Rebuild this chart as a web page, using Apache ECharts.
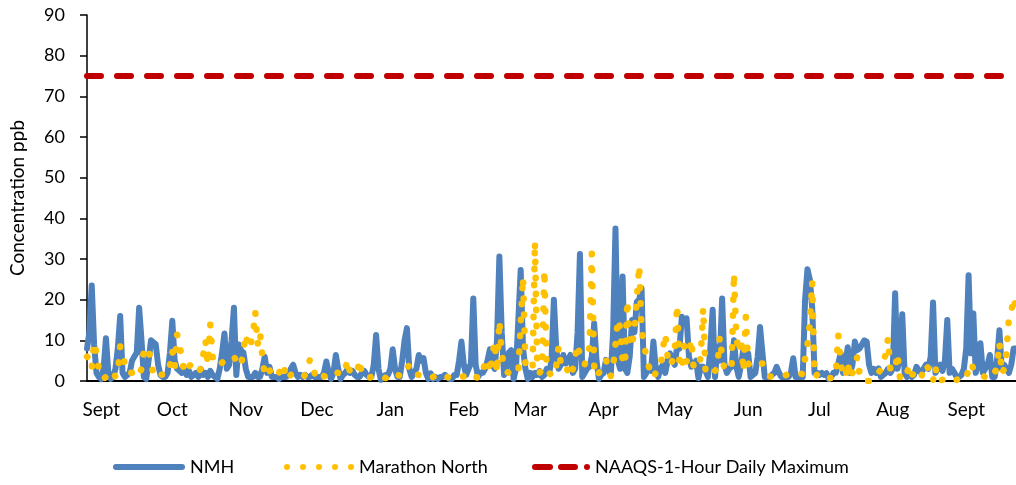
<!DOCTYPE html>
<html>
<head>
<meta charset="utf-8">
<script src="https://cdn.jsdelivr.net/npm/echarts@6/dist/echarts.min.js"></script>
<style>
  html, body { margin: 0; padding: 0; background: #fff; }
  #chart { width: 1016px; height: 485px; }
</style>
</head>
<body>
<div id="chart"></div>
<script>
// daily values, first day = START_DATE
var START_DATE = '2016-08-26';
var MONTH_LABELS = ['Jan', 'Feb', 'Mar', 'Apr', 'May', 'Jun', 'Jul', 'Aug', 'Sept', 'Oct', 'Nov', 'Dec'];
var NAAQS_LIMIT = 75;

var nmh = [
  8, 12, 23.5, 9, 2, 1, 0.5, 3, 10.5, 2,
  0.5, 1, 3, 8, 16, 2, 1, 1.5, 2, 5,
  6, 7, 18, 10, 1, 0.5, 5, 10, 9.5, 9,
  4, 1.5, 1, 1, 2, 7, 14.8, 5, 3, 2.5,
  2, 3, 1.5, 2.5, 1, 1.5, 2, 1, 3, 1.5,
  2, 1, 2.5, 1.5, 1, 0.5, 3, 7, 11.7, 3,
  4, 10, 18, 1.5, 9, 7.5, 7, 3, 1, 1,
  1, 2, 1, 1, 3, 6, 2, 3.5, 1, 1,
  1, 0.5, 1, 1, 1, 1.5, 3, 4, 2, 1,
  1.5, 1, 1.5, 1, 1, 1.5, 1, 1, 1, 1,
  2, 4.8, 2, 0.5, 2, 6.4, 3, 0.5, 1.5, 2,
  3, 2, 2.5, 1.5, 1, 1, 2, 2.5, 1.5, 1,
  1, 4, 11.3, 3, 0.3, 1, 1.5, 1.5, 3, 7.8,
  3, 1, 1, 5, 10, 13, 3, 1, 2, 3,
  6.4, 5, 5.6, 2, 0.5, 1.9, 0.5, 1, 0.5, 1,
  1, 1.5, 1, 0.5, 0.5, 1.5, 1.5, 5, 9.7, 4,
  1.5, 3, 4.3, 20.3, 4, 1, 2, 2, 3, 5,
  7.8, 4, 3, 10, 30.6, 12, 1.5, 3, 7, 7.6,
  0.5, 3, 15, 27.3, 8, 3, 0.5, 2, 1, 2,
  1.5, 2.5, 1, 1.5, 3, 2, 5, 20, 8, 3,
  4, 6.4, 4.3, 5, 6.4, 2, 3, 12, 31.2, 1,
  2, 3, 3.5, 6, 14.2, 5, 0.5, 1.5, 2, 5.2,
  3, 1.5, 12, 37.5, 5, 3, 25.7, 3, 2, 6,
  15, 12, 19.5, 20, 22.8, 1, 2, 3, 2.5, 9.7,
  3, 1, 3, 4, 2, 5, 6.8, 5, 4, 8.4,
  8, 15.8, 14, 15.4, 6, 3.5, 4, 5, 0.7, 3.5,
  3.5, 2.5, 1, 8, 17.5, 1, 8.3, 5, 20.3, 4,
  2, 3, 3.5, 10, 3.5, 1, 4, 8, 5, 6.8,
  1, 1.5, 2, 6, 13.3, 7, 1, 1, 1, 1.5,
  2, 3.5, 2, 1, 1, 1, 1, 2, 5.6, 1,
  1, 1, 1, 20, 27.5, 25, 18, 2, 2, 1.5,
  2, 1.5, 1.9, 0.5, 1, 2, 2, 4.3, 6.8, 2,
  4, 8.3, 2, 4, 9.7, 7.6, 8, 9, 10, 9.7,
  4, 2, 3, 2, 3.1, 1, 1.5, 2, 3, 2,
  3, 21.6, 3, 6, 16.4, 2, 1, 1.9, 1, 1.5,
  3.5, 2.5, 2, 3, 4, 3, 6, 19.3, 2, 3,
  4, 2.5, 5, 15, 2, 3, 2, 1, 1, 1.5,
  3, 8, 26, 6.8, 16.6, 2, 4, 9.3, 2, 3,
  4, 6.4, 1, 1, 5, 12.5, 3, 4, 3, 2,
  4, 8, 8
];

var marathonNorth = [
  6, 5.5, 3, 9.5, 7, 3, 1.5, 0.5, 1, 1.5,
  2, 2.5, 1, 2, 8.5, 7, 4, 2, 2, 2,
  2.5, 1.5, 1.5, 3, 7.5, 8, 8.2, 4, 2, 0.7,
  1, 1.5, 1.6, 1.6, 1.6, 4, 7.5, 3.5, 11.5, 9,
  6, 2, 2.5, 3.5, 4.2, 3, 2.5, 2.3, 3, 6.2,
  10, 4, 14, 6, 4, 4, 4, 4.5, 5, 5,
  5.5, 6, 6, 5, 4, 3.7, 7.6, 11.5, 8, 9,
  11, 17, 9, 12, 6, 1.2, 2, 2.7, 1, 1.5,
  1.5, 2, 3, 4.2, 0.3, 1, 1.5, 1.7, 1.5, 1,
  1, 0.8, 1.5, 2.5, 5.2, 2.2, 2, 0.2, 0.5, 1,
  1.2, 1, 0.8, 1.2, 2, 2.1, 2, 1.5, 1.5, 3,
  5.2, 2, 2, 2, 2, 5.2, 1.5, 1, 1, 0.8,
  1, 0.8, 1, 1.2, 1, 1, 0.7, 1, 1.5, 2,
  2, 1.5, 1.3, 1.3, 1.3, 3, 4, 3.5, 3, 1.6,
  1.5, 1.2, 1, 0.8, 0.8, 0.7, 1, 1.3, 1.5, 1.7,
  1.7, 1.5, 1, 0.8, 0.7, 1, 1.2, 1.1, 1.1, 1.1,
  1.5, 1.8, 2, 1.5, 1, 0.8, 0.7, 2.5, 4.5, 5.5,
  2, 6, 9.7, 2, 14.8, 7, 3, 2.3, 2, 1.5,
  1.5, 2, 2.3, 14, 25.5, 4, 3, 2.7, 3, 34.3,
  4, 2, 3, 27.3, 2.5, 2, 1.4, 4, 3.8, 8.4,
  4, 4.5, 4, 2, 1, 3, 6, 9, 6.4, 4.5,
  4, 6, 8.4, 31.4, 3.7, 1, 2, 3, 4, 5.2,
  3, 1.2, 3.5, 9, 15.2, 13, 5.2, 3.9, 19.8, 8.4,
  8.9, 12.7, 20, 28.4, 13, 9, 6, 3.7, 2, 0.8,
  2, 2.9, 3.4, 7.8, 11.6, 6, 3.7, 5, 7.2, 18.7,
  4, 3, 8.6, 4.8, 6.8, 10.2, 3.1, 3.3, 3.5, 6,
  17.9, 2.3, 2, 1.5, 1.5, 2.5, 3.3, 10.9, 6, 2.7,
  3, 3.2, 3.3, 26.5, 11, 7, 10.5, 2.3, 15.8, 4.3,
  3.5, 4, 4.3, 4.3, 4.3, 4.3, 3, 2, 1.1, 1.1,
  1.1, 1.1, 1.1, 1.1, 1.2, 1.5, 1.7, 1.9, 1.9, 1.9,
  1.9, 1.8, 1.7, 5.5, 9, 14, 24.4, 1, 1.5, 2,
  1.5, 1, 1, 0.8, 0.7, 0.7, 2, 11.3, 4.3, 2,
  0.8, 4.6, 0.7, 2, 3, 6, 1.7, 0.2, 0, 0,
  0, 0, 0.5, 1, 2, 3, 4, 6.8, 10.5, 2.5,
  2.7, 2.7, 6.8, 1, 1, 0.3, 2, 3.9, 1.7, 1.5,
  0.5, 0, 1, 2.5, 4.2, 3, 1, 0, 3.5, 0,
  0.2, 0.3, 0, 0.2, 0.5, 0.3, 0, 0.3, 0.5, 0.3,
  0, 1, 2.7, 4.5, 3, 2, 1.7, 1.5, 1.2, 1,
  0.8, 0.7, 0.7, 2, 3.5, 9.4, 1.7, 3, 7, 15.5,
  17, 20.5, 17.5
];

// one category per day
var days = [];
var d0 = new Date(START_DATE + 'T00:00:00Z');
for (var i = 0; i < nmh.length; i++) {
    var d = new Date(d0.getTime() + i * 86400000);
    days.push(d.toISOString().slice(0, 10));
}

// legend icons drawn like the excel legend keys
var circ = function (cx) {
    return 'M' + (cx - 3) + ',3 A3,3 0 1 1 ' + (cx + 3) + ',3 A3,3 0 1 1 ' + (cx - 3) + ',3 Z ';
};
var bar = function (x1, x2) {
    return 'M' + (x1 + 3) + ',0 L' + (x2 - 3) + ',0 A3,3 0 0 1 ' + (x2 - 3) + ',6 L' + (x1 + 3) + ',6 A3,3 0 0 1 ' + (x1 + 3) + ',0 Z ';
};
var iconNMH = 'path://' + bar(0, 72);
var iconMN = 'path://' + circ(3) + circ(19) + circ(35) + circ(51) + circ(67);
var iconNAAQS = 'path://' + bar(0, 21) + bar(26, 46) + circ(55);

var font = 'Lato';
var legendText = { fontFamily: font, fontSize: 18, color: '#000' };
var myChart = echarts.init(document.getElementById('chart'));
var option = {
    animation: false,
    backgroundColor: '#fff',
    textStyle: { fontFamily: font, color: '#000' },
    grid: { left: 87, right: 0, top: 15, bottom: 104, containLabel: false },
    legend: [
        { left: 108, top: 453, itemWidth: 72, itemHeight: 6, textStyle: legendText,
          data: [{ name: 'NMH', icon: iconNMH }] },
        { left: 279, top: 453, itemWidth: 70, itemHeight: 6, textStyle: legendText,
          data: [{ name: 'Marathon North', icon: iconMN }] },
        { left: 527, top: 453, itemWidth: 58, itemHeight: 6, textStyle: legendText,
          data: [{ name: 'NAAQS-1-Hour Daily Maximum', icon: iconNAAQS }] }
    ],
    xAxis: {
        type: 'category',
        data: days,
        boundaryGap: false,
        axisLine: { lineStyle: { color: '#000', width: 2 } },
        axisTick: { show: false },
        axisLabel: {
            fontFamily: font,
            fontSize: 19,
            color: '#000',
            margin: 19,
            interval: function (index, value) {
                return value.slice(8, 10) === '01';
            },
            formatter: function (value) {
                return MONTH_LABELS[parseInt(value.slice(5, 7), 10) - 1];
            }
        },
        splitLine: { show: false }
    },
    yAxis: {
        type: 'value',
        min: 0,
        max: 90,
        interval: 10,
        name: 'Concentration ppb',
        nameLocation: 'middle',
        nameGap: 60,
        nameTextStyle: { fontFamily: font, fontSize: 19, color: '#000' },
        axisLine: { show: true, lineStyle: { color: '#000', width: 1.5 } },
        axisTick: { show: true, length: 7, lineStyle: { color: '#000', width: 1.5 } },
        axisLabel: { fontFamily: font, fontSize: 18, color: '#000', margin: 22 },
        splitLine: { show: false }
    },
    series: [
        {
            name: 'NMH',
            type: 'line',
            data: nmh,
            symbol: 'none',
            lineStyle: { color: '#4F81BD', width: 6, join: 'round', cap: 'round' },
            itemStyle: { color: '#4F81BD' }
        },
        {
            name: 'Marathon North',
            type: 'line',
            data: marathonNorth,
            symbol: 'none',
            lineStyle: { color: '#FFC000', width: 6.5, type: [0.5, 15.5], cap: 'round', join: 'round' },
            itemStyle: { color: '#FFC000' }
        },
        {
            name: 'NAAQS-1-Hour Daily Maximum',
            type: 'line',
            data: [],
            symbol: 'none',
            lineStyle: { color: '#C00000', width: 6, type: [14, 16], cap: 'round' },
            itemStyle: { color: '#C00000' },
            markLine: {
                silent: true,
                symbol: 'none',
                label: { show: false },
                lineStyle: { color: '#C00000', width: 6, type: [14, 16], cap: 'round' },
                data: [{ yAxis: NAAQS_LIMIT }]
            }
        }
    ]
};
myChart.setOption(option);
</script>
</body>
</html>
